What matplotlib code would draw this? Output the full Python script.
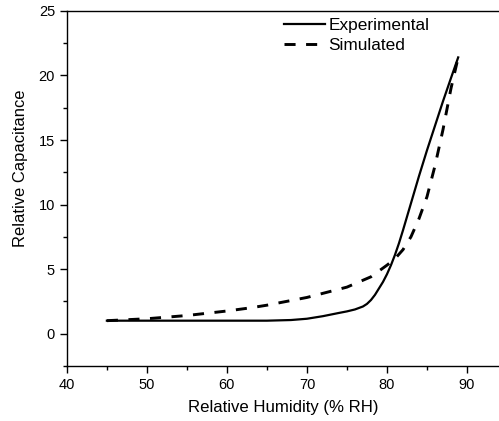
import numpy as np
import matplotlib
matplotlib.use("Agg")
import matplotlib.pyplot as plt
from matplotlib.ticker import MultipleLocator

plt.rcParams['font.family'] = ['Liberation Sans', 'DejaVu Sans']

# Experimental curve (relative humidity %RH vs relative capacitance)
rh_exp = [45, 50, 55, 60, 65, 68, 70, 72, 74, 75, 76, 77, 77.5, 78, 78.5, 79, 79.5, 80, 80.5, 81,
          81.5, 82, 83, 84, 85, 86, 87, 88, 88.9]
cap_exp = [1.0, 1.0, 1.0, 1.0, 1.0, 1.05, 1.15, 1.35, 1.6, 1.72, 1.87, 2.1, 2.3, 2.6, 3.0, 3.5, 4.0, 4.6, 5.3, 6.1,
           7.0, 8.0, 10.1, 12.2, 14.2, 16.1, 18.0, 19.8, 21.4]

# Simulated curve
rh_sim = [45, 50, 55, 60, 63, 65, 70, 75, 78, 80, 81, 82, 83, 84, 85, 86, 87, 88, 88.9]
cap_sim = [1.0, 1.15, 1.4, 1.75, 2.0, 2.2, 2.8, 3.6, 4.4, 5.3, 5.8, 6.5, 7.5, 8.9, 10.6, 13.0, 15.8, 19.0, 21.4]

fig = plt.figure(figsize=(4.99, 4.21), dpi=100)
ax = fig.add_axes([0.134, 0.131, 0.866, 0.843])

ax.plot(rh_exp, cap_exp, color='black', lw=1.6, label='Experimental')
ax.plot(rh_sim, cap_sim, color='black', lw=2.1, ls=(0, (3.8, 3.6)), label='Simulated')

ax.set_xlim(40, 94)
ax.set_ylim(-2.5, 25)
ax.xaxis.set_major_locator(MultipleLocator(10))
ax.xaxis.set_minor_locator(MultipleLocator(5))
ax.yaxis.set_major_locator(MultipleLocator(5))
ax.yaxis.set_minor_locator(MultipleLocator(2.5))
ax.tick_params(which='major', direction='out', length=5, width=1, labelsize=10.5)
ax.tick_params(which='minor', direction='out', length=3, width=1)
ax.spines['right'].set_visible(False)
for s in ['left', 'bottom', 'top']:
    ax.spines[s].set_linewidth(1.0)

ax.set_xlabel("Relative Humidity (% RH)", fontsize=12.1, labelpad=6)
ax.set_ylabel("Relative Capacitance", fontsize=11.9, labelpad=8)
ax.yaxis.label.set_y(0.558)

ax.legend(loc='upper left', bbox_to_anchor=(0.486, 1.0), frameon=False,
          fontsize=12.4, handlelength=2.4, handletextpad=0.2, labelspacing=0.3,
          borderaxespad=0)

fig.savefig("out.png", dpi=100)
